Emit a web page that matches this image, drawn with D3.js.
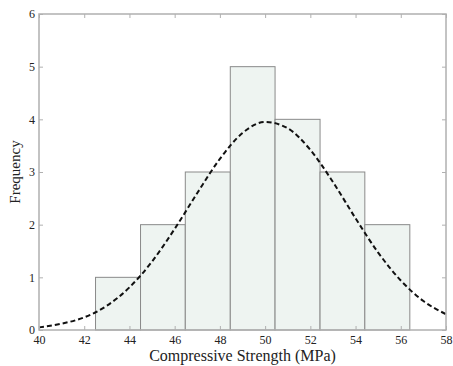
<!DOCTYPE html>
<html>
<head>
<meta charset="utf-8">
<script src="https://cdn.jsdelivr.net/npm/d3@7"></script>
<style>
  body { margin: 0; background: #fff; }
</style>
</head>
<body>
<div id="chart"></div>
<script>
let width = 453,
    height = 366,
    margin = ({ top: 14, right: 7, bottom: 36, left: 39 });

const serif = "'Liberation Serif', 'Times New Roman', 'DejaVu Serif', serif";

// histogram bins (MPa) and counts
const binEdges = [42.5, 44.49, 46.47, 48.46, 50.44, 52.43, 54.41, 56.4];
const counts = [1, 2, 3, 5, 4, 3, 2];

// fitted normal curve
const curveX = [40, 41, 42, 43, 44, 45, 46, 47, 48, 49, 50, 51, 52, 53, 54, 55, 56, 57, 58];
const curveY = [0.05, 0.12, 0.24, 0.46, 0.81, 1.30, 1.92, 2.60, 3.25, 3.74, 3.95, 3.83, 3.42, 2.81, 2.12, 1.47, 0.94, 0.55, 0.30];

const xTicks = [40, 42, 44, 46, 48, 50, 52, 54, 56, 58];
const yTicks = [0, 1, 2, 3, 4, 5, 6];

const svg = d3.select("#chart")
  .append("svg")
  .attr("width", width)
  .attr("height", height);

let x = d3.scaleLinear()
  .domain([40, 58])
  .range([margin.left, width - margin.right]);

let y = d3.scaleLinear()
  .domain([0, 6])
  .range([height - margin.bottom, margin.top]);

let bins = counts.map((c, i) => ({ x0: binEdges[i], x1: binEdges[i + 1], n: c }));

svg.append("g")
  .selectAll("rect")
  .data(bins)
  .join("rect")
  .attr("x", d => x(d.x0))
  .attr("y", d => y(d.n))
  .attr("width", d => x(d.x1) - x(d.x0))
  .attr("height", d => y(0) - y(d.n))
  .attr("fill", "#eef4f1")
  .attr("stroke", "#8a8a8a")
  .attr("stroke-width", 1);

let line = d3.line()
  .x((d, i) => x(curveX[i]))
  .y(d => y(d))
  .curve(d3.curveMonotoneX);

svg.append("path")
  .datum(curveY)
  .attr("fill", "none")
  .attr("stroke", "#111")
  .attr("stroke-width", 2)
  .attr("stroke-dasharray", "5,3")
  .attr("d", line);

// box axes, ticks pointing inward
const axisColor = "#b0b0b0";
function styleAxis(g) {
  g.select(".domain").remove();
  g.selectAll(".tick line").attr("stroke", axisColor);
  g.selectAll(".tick text")
    .style("font-family", serif)
    .style("font-size", "12px")
    .attr("fill", "#222");
}

svg.append("g")
  .attr("transform", `translate(0,${y(0)})`)
  .call(d3.axisBottom(x).tickValues(xTicks).tickSize(-4).tickPadding(5).tickFormat(d3.format("d")))
  .call(styleAxis);

svg.append("g")
  .attr("transform", `translate(0,${y(6)})`)
  .call(d3.axisTop(x).tickValues(xTicks).tickSize(-4).tickFormat(""))
  .call(styleAxis);

svg.append("g")
  .attr("transform", `translate(${x(40)},0)`)
  .call(d3.axisLeft(y).tickValues(yTicks).tickSize(-4).tickPadding(4).tickFormat(d3.format("d")))
  .call(styleAxis);

svg.append("g")
  .attr("transform", `translate(${x(58)},0)`)
  .call(d3.axisRight(y).tickValues(yTicks).tickSize(-4).tickFormat(""))
  .call(styleAxis);

svg.append("rect")
  .attr("x", x(40))
  .attr("y", y(6))
  .attr("width", x(58) - x(40))
  .attr("height", y(0) - y(6))
  .attr("fill", "none")
  .attr("stroke", axisColor)
  .attr("stroke-width", 1.5);

svg.append("text")
  .attr("x", (x(40) + x(58)) / 2)
  .attr("y", 361)
  .attr("text-anchor", "middle")
  .style("font-family", serif)
  .style("font-size", "16px")
  .attr("fill", "#222")
  .text("Compressive Strength (MPa)");

svg.append("text")
  .attr("transform", `translate(20,${(y(0) + y(6)) / 2}) rotate(-90)`)
  .attr("text-anchor", "middle")
  .style("font-family", serif)
  .style("font-size", "15px")
  .attr("fill", "#222")
  .text("Frequency");
</script>
</body>
</html>
